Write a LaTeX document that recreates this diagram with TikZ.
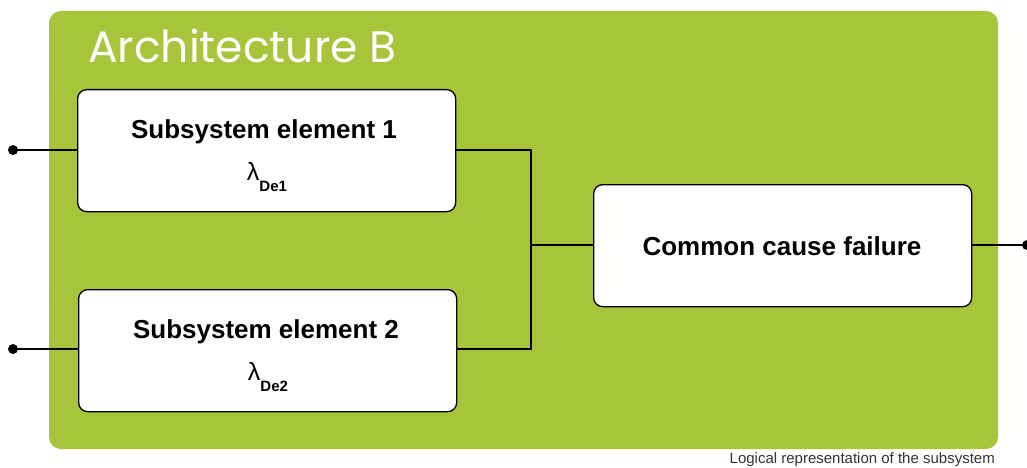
\documentclass[tikz,border=0pt]{standalone}
\usepackage{fontspec}
\setmainfont{Liberation Sans}
\newfontfamily\titlefont{Poppins}
\definecolor{archgreen}{HTML}{A6C53A}
\begin{document}
\begin{tikzpicture}[x=1pt,y=-1pt,
  elbox/.style={draw=black,line width=1.3pt,fill=white,rounded corners=9pt,minimum width=378pt,minimum height=122pt,anchor=north west,inner sep=0pt},
  wire/.style={line width=2pt,black},
  boxtext/.style={font=\bfseries\fontsize{26}{26}\selectfont},
  lam/.style={font=\fontsize{25}{25}\selectfont},
  dotend/.style={circle,fill=black,inner sep=0pt,minimum size=10pt}]
\useasboundingbox (0,0) rectangle (1027,468);
\fill[archgreen,rounded corners=12pt] (49,11) rectangle (998,449);
\node[anchor=base west,text=white,font=\titlefont\fontsize{44}{44}\selectfont,inner sep=0pt] (title) at (88,63) {Architecture B};
\node[elbox] (e1) at (77,89) {};
\node[elbox] (e2) at (78,289) {};
\node[elbox] (ccf) at (593,184) {};
\node[boxtext] (t1) at (264,132) {Subsystem element 1};
\node[lam] (l1) at (267,177) {λ\raisebox{-0.9ex}{\bfseries\fontsize{15}{15}\selectfont De1}};
\node[boxtext] (t2) at (266,332) {Subsystem element 2};
\node[lam] (l2) at (268,377) {λ\raisebox{-0.9ex}{\bfseries\fontsize{15}{15}\selectfont De2}};
\node[boxtext] (t3) at (782,246) {Common cause failure};
\node[dotend] (in1) at (13,150) {};
\node[dotend] (in2) at (13,349) {};
\node[dotend] (out) at (1027,245) {};
\coordinate (j) at (531,245);
\draw[wire] (in1.center) -- (e1.west |- in1);
\draw[wire] (in2.center) -- (e2.west |- in2);
\draw[wire] (e1.east |- in1) -| (j);
\draw[wire] (e2.east |- in2) -| (j);
\draw[wire] (j) -- (ccf.west |- j);
\draw[wire] (ccf.east |- j) -- (out.center);
\node[anchor=base east,font=\fontsize{15}{15}\selectfont,text=black!80,inner sep=0pt] (cap) at (995,463.5) {Logical representation of the subsystem};
\end{tikzpicture}
\end{document}
